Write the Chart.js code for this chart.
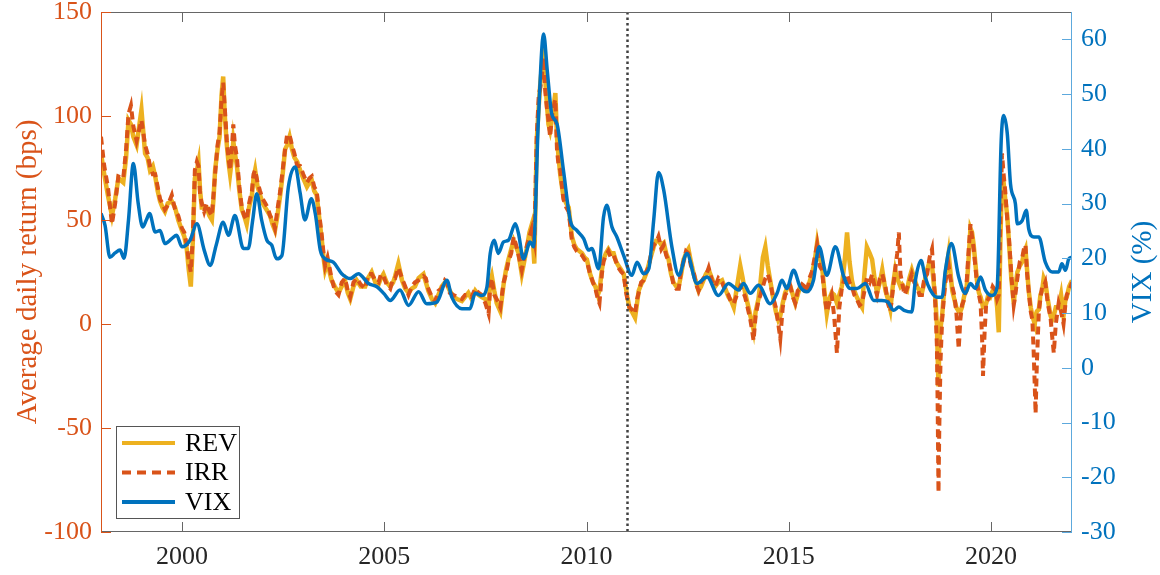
<!DOCTYPE html>
<html>
<head>
<meta charset="utf-8">
<script src="https://cdn.jsdelivr.net/npm/chart.js@4"></script>
<style>
  body { margin: 0; background: #fff; }
</style>
</head>
<body>
<canvas id="myChart" width="1160" height="575"></canvas>
<script>
const ctx = document.getElementById('myChart');

// x ticks (years) and axis tick values
const yearTicks = [2000, 2005, 2010, 2015, 2020];
const leftTicks = [-100, -50, 0, 50, 100, 150];
const rightTicks = [-30, -20, -10, 0, 10, 20, 30, 40, 50, 60];
const breakYear = 2011;

// REV / IRR average daily return (bps)
const retYears = [
	1998.00,1998.08,1998.17,1998.27,1998.35,1998.43,1998.55,1998.62,1998.68,1998.74,1998.80,1998.88,1998.95,
	1999.00,1999.09,1999.15,1999.21,1999.28,1999.34,1999.40,1999.46,1999.52,1999.58,1999.65,1999.75,1999.83,1999.91,
	2000.00,2000.06,2000.12,2000.17,2000.22,2000.27,2000.32,2000.37,2000.41,2000.45,2000.49,2000.55,2000.61,2000.68,2000.74,2000.78,2000.82,2000.88,2000.93,2000.98,
	2001.02,2001.06,2001.11,2001.15,2001.19,2001.24,2001.27,2001.31,2001.36,2001.42,2001.48,2001.54,2001.60,2001.66,2001.73,2001.77,2001.81,2001.87,2001.93,
	2002.00,2002.06,2002.12,2002.18,2002.24,2002.30,2002.36,2002.43,2002.49,2002.55,2002.60,2002.66,2002.72,2002.78,2002.85,2002.92,
	2003.00,2003.09,2003.15,2003.21,2003.27,2003.33,2003.40,2003.46,2003.50,2003.54,2003.60,2003.66,2003.70,2003.78,2003.87,2003.95,
	2004.03,2004.10,2004.16,2004.24,2004.32,2004.42,2004.53,2004.60,2004.69,2004.78,2004.86,2004.92,2004.98,
	2005.06,2005.15,2005.22,2005.27,2005.35,2005.44,2005.52,2005.60,2005.68,2005.76,2005.85,2005.97,
	2006.03,2006.09,2006.18,2006.26,2006.34,2006.42,2006.50,2006.55,2006.62,2006.71,2006.80,2006.92,
	2007.00,2007.08,2007.16,2007.25,2007.33,2007.41,2007.50,2007.58,2007.62,2007.66,2007.72,2007.78,2007.87,2007.95,
	2008.01,2008.07,2008.14,2008.20,2008.26,2008.32,2008.40,2008.46,2008.53,2008.59,2008.65,2008.71,2008.77,2008.82,2008.86,2008.90,2008.94,2008.98,
	2009.02,2009.06,2009.10,2009.16,2009.23,2009.27,2009.31,2009.35,2009.43,2009.50,2009.56,2009.64,2009.70,2009.76,2009.83,2009.89,2009.95,
	2010.01,2010.09,2010.16,2010.22,2010.28,2010.32,2010.38,2010.42,2010.48,2010.54,2010.60,2010.67,2010.73,2010.79,2010.86,2010.92,2010.97,
	2011.01,2011.06,2011.12,2011.20,2011.25,2011.29,2011.35,2011.41,2011.47,2011.53,2011.60,2011.66,2011.72,2011.78,2011.85,2011.91,2011.97,
	2012.03,2012.09,2012.15,2012.22,2012.28,2012.34,2012.40,2012.46,2012.52,2012.58,2012.65,2012.71,2012.77,2012.83,2012.89,2012.95,
	2013.02,2013.10,2013.18,2013.26,2013.35,2013.43,2013.51,2013.58,2013.64,2013.72,2013.80,2013.86,2013.92,2013.98,
	2014.05,2014.10,2014.13,2014.18,2014.25,2014.30,2014.36,2014.42,2014.48,2014.54,2014.62,2014.68,2014.74,2014.79,2014.85,2014.91,2014.98,
	2015.04,2015.10,2015.16,2015.22,2015.28,2015.33,2015.39,2015.45,2015.51,2015.57,2015.64,2015.70,2015.76,2015.82,2015.88,2015.94,
	2016.00,2016.06,2016.12,2016.19,2016.25,2016.31,2016.38,2016.44,2016.50,2016.56,2016.62,2016.68,2016.75,2016.81,2016.87,2016.93,
	2017.00,2017.06,2017.12,2017.18,2017.25,2017.31,2017.39,2017.45,2017.51,2017.57,2017.63,2017.68,2017.72,2017.76,2017.80,2017.86,2017.92,2017.98,
	2018.04,2018.10,2018.17,2018.23,2018.29,2018.35,2018.42,2018.48,2018.54,2018.59,2018.62,2018.66,2018.68,2018.70,2018.72,2018.75,2018.79,2018.83,2018.87,2018.92,2018.95,2018.99,
	2019.04,2019.09,2019.14,2019.20,2019.24,2019.28,2019.34,2019.39,2019.44,2019.49,2019.53,2019.57,2019.65,2019.70,2019.74,2019.78,2019.80,2019.84,2019.88,2019.93,2019.98,
	2020.04,2020.11,2020.15,2020.19,2020.23,2020.27,2020.31,2020.35,2020.40,2020.44,2020.50,2020.56,2020.60,2020.65,2020.71,2020.77,2020.81,2020.85,2020.89,2020.93,2020.98,
	2021.02,2021.05,2021.08,2021.10,2021.13,2021.18,2021.22,2021.26,2021.30,2021.34,2021.40,2021.47,2021.51,2021.55,2021.60,2021.67,2021.73,2021.79,2021.84,2021.87,2021.93,2022.00
];
const revValues = [
	82,72,62,52,60,70,68,80,98,96,90,86,96,
	103,82,80,74,76,71,64,59,56,54,58,59,56,50,
	45,42,36,26,18,40,70,74,78,64,56,56,56,52,50,60,74,84,90,110,
	119,100,86,78,72,80,88,82,76,64,55,52,48,56,62,70,74,66,62,
	58,56,54,52,48,45,52,62,72,84,86,90,84,80,78,74,
	70,66,68,69,64,62,50,40,32,26,30,24,21,18,15,18,
	21,15,12,18,21,18,18,22,25,20,19,22,24,
	20,18,20,23,29,21,17,15,17,18,22,24,
	20,16,12,10,14,18,20,19,16,13,12,11,
	13,15,12,16,14,13,12,9,20,23,16,10,6,19,
	26,31,36,40,37,34,24,30,37,44,48,29,88,105,116,124,129,118,
	106,96,93,100,111,90,80,72,61,58,56,42,38,36,35,34,32,
	31,24,20,18,14,16,26,31,34,36,34,34,30,28,26,24,18,
	13,8,6,3,10,16,19,21,24,28,33,37,40,40,38,39,34,
	31,24,20,18,18,24,31,34,36,30,24,20,16,18,21,24,
	26,22,18,20,21,17,13,11,8,18,28,22,15,10,
	4,0,-3,6,12,20,32,37,28,21,12,6,2,4,10,15,18,
	18,14,10,14,18,18,16,16,20,24,30,39,32,28,16,5,
	12,15,14,10,14,18,30,44,30,21,16,13,10,8,24,37,
	34,31,22,15,20,26,16,12,7,18,26,22,20,18,19,17,16,22,
	26,22,18,16,15,20,26,30,28,18,13,0,-16,-30,-10,-2,4,14,23,30,34,26,
	16,12,8,6,6,8,14,16,30,46,44,38,21,15,13,10,8,8,10,14,13,
	16,16,8,-4,40,70,68,60,52,40,22,10,18,25,28,30,34,36,26,16,8,
	4,2,0,4,6,7,14,16,22,20,12,4,2,4,8,8,14,4,12,13,18,21
];
const irrValues = [
	90,76,66,48,58,71,70,84,101,105,95,88,94,
	98,86,82,76,72,72,66,60,58,55,57,62,55,52,
	46,44,38,30,25,42,74,78,76,62,58,54,58,54,52,62,72,86,92,108,
	116,104,88,80,74,86,96,86,80,66,56,52,50,58,64,72,74,68,64,
	60,58,56,52,50,46,55,64,74,84,91,91,86,82,76,76,
	72,68,70,71,66,64,52,42,34,28,32,26,22,16,14,20,
	22,16,13,20,22,19,17,24,24,21,20,24,23,
	19,17,22,22,27,22,18,14,18,20,21,23,
	22,17,13,11,16,17,21,20,15,14,13,12,
	14,14,13,17,15,14,10,5,18,22,14,12,8,20,
	24,30,34,42,38,33,26,32,38,42,46,40,90,110,114,120,128,112,
	104,98,90,102,108,84,76,74,60,56,54,40,37,35,34,33,31,
	30,24,20,17,12,10,24,30,33,35,32,33,30,27,25,24,16,
	12,8,7,5,12,15,20,21,25,27,34,38,39,42,36,38,33,
	30,25,19,17,17,26,30,35,34,28,25,19,16,20,22,23,
	27,21,18,22,20,16,14,10,10,14,18,16,13,8,
	2,-4,-8,4,11,14,18,22,24,20,12,8,0,-7,8,14,16,
	18,13,10,16,17,19,18,15,22,25,32,38,28,26,14,6,
	10,14,4,-14,8,17,22,24,20,18,14,12,9,10,16,22,
	20,24,18,14,22,24,18,10,6,16,26,34,44,24,20,14,17,20,
	24,20,18,14,14,22,24,32,36,20,10,-10,-40,-81,-50,-18,2,12,20,26,28,22,
	18,14,6,-12,2,9,12,18,34,48,42,36,20,14,10,-8,-25,-4,10,12,14,
	18,16,12,14,50,82,72,64,50,42,24,9,14,22,30,32,36,38,24,16,6,
	2,-12,-30,-43,-20,6,12,18,18,20,10,3,-6,-14,0,10,6,0,10,14,16,20
];

// VIX (%)
const vixYears = [
	1998.00,1998.10,1998.22,1998.35,1998.47,1998.57,1998.68,1998.80,1998.92,1999.03,1999.12,1999.20,1999.34,1999.46,1999.58,1999.75,1999.87,
	2000.00,2000.20,2000.37,2000.55,2000.70,2000.85,2001.02,2001.15,2001.31,2001.52,2001.64,2001.75,2001.85,2001.97,
	2002.10,2002.22,2002.34,2002.47,2002.63,2002.80,2002.92,2003.04,2003.20,2003.30,2003.42,2003.54,2003.74,2003.95,
	2004.16,2004.36,2004.61,2004.82,2005.00,2005.15,2005.39,2005.60,2005.85,2006.05,2006.30,2006.55,2006.67,2006.92,
	2007.12,2007.25,2007.41,2007.54,2007.62,2007.72,2007.82,2007.95,2008.07,2008.24,2008.32,2008.44,2008.61,2008.69,2008.81,2008.94,
	2009.03,2009.14,2009.27,2009.43,2009.60,2009.76,2009.93,2010.05,2010.13,2010.30,2010.42,2010.50,2010.63,2010.75,2010.92,
	2011.12,2011.25,2011.41,2011.54,2011.66,2011.78,2011.91,2012.11,2012.28,2012.48,2012.73,2012.98,
	2013.26,2013.51,2013.76,2013.88,2014.05,2014.25,2014.54,2014.71,2014.83,2014.95,2015.12,2015.28,2015.45,2015.61,2015.75,2015.94,
	2016.15,2016.36,2016.52,2016.69,2016.89,2017.10,2017.30,2017.45,2017.59,2017.72,2017.85,2018.04,2018.13,2018.27,2018.37,2018.50,2018.66,2018.79,2018.87,
	2019.02,2019.20,2019.36,2019.49,2019.61,2019.74,2019.86,2020.02,2020.15,2020.25,2020.31,2020.40,2020.48,2020.60,2020.65,2020.77,2020.87,2020.93,
	2021.06,2021.18,2021.34,2021.51,2021.67,2021.75,2021.84,2021.92,2022.00
];
const vixValues = [
	28.2,26,20.2,21,21.5,20,27,37.3,30,25.7,27,28.2,24.8,25.1,22.7,23.6,24.2,
	22.1,23.3,26.3,21.5,18.7,22.5,26.6,24.2,27.8,21.8,21.8,27,31.8,27,
	23.3,22.4,19.9,20.5,33,36.7,32,27,30.9,28,21.5,19.9,19.3,17.2,
	16.3,17.2,15.4,14.8,13.5,12.3,14.2,11.4,13.9,11.7,12,16,12.9,10.8,
	10.8,13.6,13.2,14.8,20.9,23.3,20.9,23,23.3,26.3,24.5,19.9,23,22.1,45.2,61,
	54.3,46.4,44.6,36.1,26.9,25.1,23.6,21.5,21.8,18.1,27.5,29.7,25.7,23.9,20.5,
	16.9,19.3,17.2,18.1,26.9,35.7,32.4,22.1,16.9,20.9,15.4,16.6,
	13.2,15.4,14.2,15.4,13.6,15.1,11.7,13.6,16,14.5,17.8,14.8,13.9,16,22.1,16.9,
	22.1,16.6,14.5,14.5,15.4,12.3,12.3,12,10.5,11.1,10.5,10.2,16,19.6,16.6,14.2,12.9,12.9,17.8,
	22.7,16.6,13.6,15.4,14.5,16.6,14.2,13.2,14.8,41.5,46.1,42.8,33.6,30,26.3,26.9,28.8,25.4,
	23.9,23.9,19.3,17.5,17.5,19,17.8,19.9,20.2
];

const ORANGE = '#D95319';
const YELLOW = '#EDB120';
const BLUE = '#0072BD';
const FONT = "'Liberation Serif', 'Times New Roman', serif";

function toPoints(xs, ys) {
	return xs.map((x, i) => ({ x: x, y: ys[i] }));
}

// MATLAB-style box, inward ticks, titles, legend and the dotted break line
const matlabAxes = {
	id: 'matlabAxes',
	afterDatasetsDraw(chart) {
		const c = chart.ctx;
		const a = chart.chartArea;
		const xs = chart.scales.x, yl = chart.scales.y, yr = chart.scales.y1;
		c.save();

		// dotted vertical line
		const bx = Math.round(xs.getPixelForValue(breakYear)) + 0.5;
		c.strokeStyle = '#404040';
		c.lineWidth = 2.5;
		c.setLineDash([2.5, 3]);
		c.beginPath();
		c.moveTo(bx, a.top);
		c.lineTo(bx, a.bottom);
		c.stroke();
		c.setLineDash([]);

		// box
		c.lineWidth = 1;
		c.strokeStyle = '#666';
		c.beginPath();
		c.moveTo(a.left, a.top + 0.5); c.lineTo(a.right, a.top + 0.5);
		c.moveTo(a.left, a.bottom - 0.5); c.lineTo(a.right, a.bottom - 0.5);
		yearTicks.forEach((v) => {
			const px = Math.round(xs.getPixelForValue(v)) + 0.5;
			c.moveTo(px, a.bottom); c.lineTo(px, a.bottom - 10);
			c.moveTo(px, a.top); c.lineTo(px, a.top + 10);
		});
		c.stroke();

		c.strokeStyle = ORANGE;
		c.beginPath();
		c.moveTo(a.left + 0.5, a.top); c.lineTo(a.left + 0.5, a.bottom);
		leftTicks.forEach((v) => {
			const py = Math.round(yl.getPixelForValue(v)) + 0.5;
			c.moveTo(a.left, py); c.lineTo(a.left + 10, py);
		});
		c.stroke();

		c.strokeStyle = '#5DA9DD';
		c.beginPath();
		c.moveTo(a.right - 0.5, a.top); c.lineTo(a.right - 0.5, a.bottom);
		rightTicks.forEach((v) => {
			const py = Math.round(yr.getPixelForValue(v)) + 0.5;
			c.moveTo(a.right, py); c.lineTo(a.right - 10, py);
		});
		c.stroke();

		// axis titles (both read bottom to top)
		const midY = (a.top + a.bottom) / 2;
		c.font = '29px ' + FONT;
		c.textAlign = 'center';
		c.textBaseline = 'middle';
		c.fillStyle = ORANGE;
		c.save();
		c.translate(28, midY);
		c.rotate(-Math.PI / 2);
		c.fillText('Average daily return (bps)', 0, 0);
		c.restore();
		c.fillStyle = BLUE;
		c.save();
		c.translate(1143, midY);
		c.rotate(-Math.PI / 2);
		c.fillText('VIX (%)', 0, 0);
		c.restore();

		// legend
		const lx = 116.5, ly = 426.5, lw = 123, lh = 92;
		c.fillStyle = '#fff';
		c.fillRect(lx, ly, lw, lh);
		c.strokeStyle = '#555';
		c.lineWidth = 1;
		c.strokeRect(lx, ly, lw, lh);
		const entries = [
			{ label: 'REV', color: YELLOW, dash: [] },
			{ label: 'IRR', color: ORANGE, dash: [9, 6] },
			{ label: 'VIX', color: BLUE, dash: [] }
		];
		c.font = '26px ' + FONT;
		c.textAlign = 'left';
		entries.forEach((e, i) => {
			const y = 443 + i * 29.5;
			c.strokeStyle = e.color;
			c.lineWidth = 4;
			c.setLineDash(e.dash);
			c.beginPath();
			c.moveTo(122, y); c.lineTo(175, y);
			c.stroke();
			c.setLineDash([]);
			c.fillStyle = '#000';
			c.fillText(e.label, 185, y + 1);
		});
		c.restore();
	}
};

new Chart(ctx, {
	type: 'line',
	data: {
		datasets: [{
			label: 'VIX',
			data: toPoints(vixYears, vixValues),
			yAxisID: 'y1',
			borderColor: BLUE,
			borderWidth: 3.5,
			pointRadius: 0,
			cubicInterpolationMode: 'monotone'
		}, {
			label: 'IRR',
			data: toPoints(retYears, irrValues),
			yAxisID: 'y',
			borderColor: ORANGE,
			borderWidth: 4,
			borderDash: [8, 5],
			pointRadius: 0,
			tension: 0
		}, {
			label: 'REV',
			data: toPoints(retYears, revValues),
			yAxisID: 'y',
			borderColor: YELLOW,
			borderWidth: 4.5,
			pointRadius: 0,
			tension: 0
		}]
	},
	options: {
		responsive: false,
		animation: false,
		layout: { padding: { top: 12, left: 0, right: 0, bottom: 0 } },
		plugins: {
			legend: { display: false },
			tooltip: { enabled: false }
		},
		scales: {
			x: {
				type: 'linear',
				min: 1998,
				max: 2022,
				grid: { display: false, drawTicks: false },
				border: { display: false },
				afterBuildTicks: (s) => { s.ticks = yearTicks.map((v) => ({ value: v })); },
				afterFit: (s) => { s.height = 43; s.paddingLeft = 0; s.paddingRight = 0; },
				ticks: {
					padding: 10,
					color: '#262626',
					font: { family: FONT, size: 26 },
					callback: (v) => String(v)
				}
			},
			y: {
				position: 'left',
				min: -100,
				max: 150,
				grid: { display: false, drawTicks: false },
				border: { display: false },
				afterBuildTicks: (s) => { s.ticks = leftTicks.map((v) => ({ value: v })); },
				afterFit: (s) => { s.width = 101; s.paddingTop = 0; s.paddingBottom = 0; },
				ticks: {
					padding: 9,
					color: ORANGE,
					font: { family: FONT, size: 26 }
				}
			},
			y1: {
				position: 'right',
				min: -30,
				max: 65,
				grid: { display: false, drawTicks: false },
				border: { display: false },
				afterBuildTicks: (s) => { s.ticks = rightTicks.map((v) => ({ value: v })); },
				afterFit: (s) => { s.width = 88; s.paddingTop = 0; s.paddingBottom = 0; },
				ticks: {
					padding: 9,
					color: BLUE,
					font: { family: FONT, size: 26 }
				}
			}
		}
	},
	plugins: [matlabAxes]
});
</script>
</body>
</html>
